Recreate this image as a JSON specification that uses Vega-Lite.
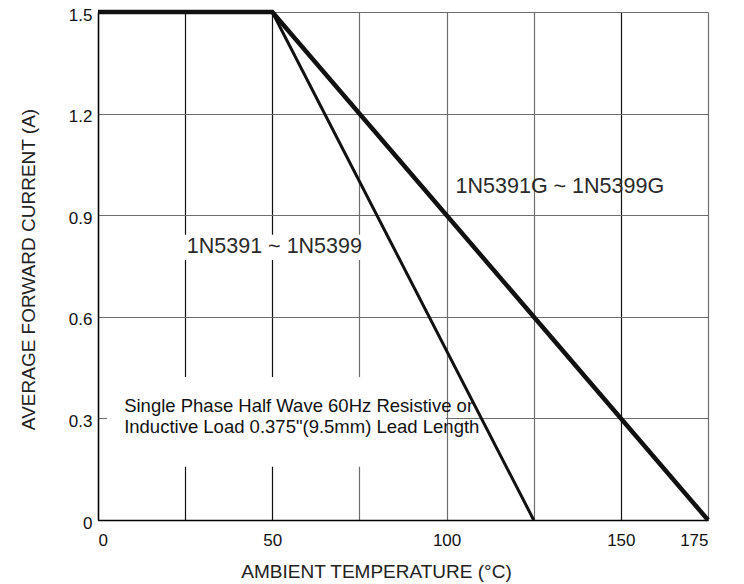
{
  "$schema": "https://vega.github.io/schema/vega-lite/v6.json",
  "width": 610,
  "height": 508,
  "autosize": {"type": "none"},
  "padding": {"left": 98, "top": 12, "right": 36, "bottom": 64},
  "background": "white",
  "config": {
    "view": {"stroke": null},
    "font": "Liberation Sans",
    "axis": {
      "labelFont": "Liberation Sans",
      "titleFont": "Liberation Sans",
      "labelColor": "#111",
      "titleColor": "#222",
      "labelFontSize": 17,
      "titleFontSize": 19,
      "titleFontWeight": "normal",
      "domainColor": "#000",
      "domainWidth": 1.5,
      "ticks": false,
      "gridWidth": 1.2,
      "gridOpacity": 1
    }
  },
  "datasets": {
    "curves": [
      {"series": "1N5391 ~ 1N5399", "temp": 0, "current": 1.5},
      {"series": "1N5391 ~ 1N5399", "temp": 50, "current": 1.5},
      {"series": "1N5391 ~ 1N5399", "temp": 125, "current": 0},
      {"series": "1N5391G ~ 1N5399G", "temp": 0, "current": 1.5},
      {"series": "1N5391G ~ 1N5399G", "temp": 50, "current": 1.5},
      {"series": "1N5391G ~ 1N5399G", "temp": 175, "current": 0}
    ],
    "seriesLabels": [
      {"label": "1N5391 ~ 1N5399", "temp": 50.6, "current": 0.806},
      {"label": "1N5391G ~ 1N5399G", "temp": 132.5, "current": 0.982}
    ],
    "note": [
      {"label": "Single Phase Half Wave 60Hz Resistive or", "temp": 7.5, "current": 0.319},
      {"label": "Inductive Load 0.375\"(9.5mm) Lead Length", "temp": 7.5, "current": 0.257}
    ],
    "labelBoxes": [
      {"temp": 24.6, "temp2": 76.4, "current": 0.768, "current2": 0.842},
      {"temp": 2.6, "temp2": 99.8, "current": 0.157, "current2": 0.422}
    ]
  },
  "encoding": {
    "x": {
      "field": "temp",
      "type": "quantitative",
      "scale": {"domain": [0, 175], "nice": false},
      "axis": {
        "title": "AMBIENT TEMPERATURE (°C)",
        "values": [0, 25, 50, 75, 100, 125, 150, 175],
        "labelExpr": "datum.value % 50 == 0 || datum.value == 175 ? datum.label : ''",
        "grid": true,
        "gridColor": {"condition": {"test": "datum.value == 25 || datum.value == 50 || datum.value == 150", "value": "#111"}, "value": "#6e6e6e"},
        "labelPadding": 12,
        "titleX": 278,
        "titleY": 57,
        "titleAlign": "center",
        "titleBaseline": "alphabetic"
      }
    },
    "y": {
      "field": "current",
      "type": "quantitative",
      "scale": {"domain": [0, 1.5], "nice": false},
      "axis": {
        "title": "AVERAGE FORWARD CURRENT (A)",
        "values": [0, 0.3, 0.6, 0.9, 1.2, 1.5],
        "format": ".1~f",
        "grid": true,
        "gridColor": "#6e6e6e",
        "labelPadding": 6,
        "labelOffset": 3,
        "titleX": -70,
        "titleY": 257,
        "titleAngle": -90,
        "titleAlign": "center",
        "titleBaseline": "middle"
      }
    }
  },
  "layer": [
    {
      "data": {"name": "labelBoxes"},
      "mark": {"type": "rect", "fill": "white", "stroke": null},
      "encoding": {
        "x2": {"field": "temp2"},
        "y2": {"field": "current2"}
      }
    },
    {
      "data": {"name": "curves"},
      "mark": {"type": "line", "color": "#111", "strokeJoin": "miter", "strokeCap": "butt"},
      "encoding": {
        "detail": {"field": "series", "type": "nominal"},
        "strokeWidth": {
          "field": "series",
          "type": "nominal",
          "scale": {"domain": ["1N5391 ~ 1N5399", "1N5391G ~ 1N5399G"], "range": [3, 4.5]},
          "legend": null
        }
      }
    },
    {
      "data": {"name": "seriesLabels"},
      "mark": {"type": "text", "font": "Liberation Sans", "fontSize": 21.5, "color": "#2a2a2a", "align": "center", "baseline": "middle"},
      "encoding": {"text": {"field": "label"}}
    },
    {
      "data": {"name": "note"},
      "mark": {"type": "text", "font": "Liberation Sans", "fontSize": 18.5, "color": "#111", "align": "left", "baseline": "alphabetic"},
      "encoding": {"text": {"field": "label"}}
    }
  ]
}
